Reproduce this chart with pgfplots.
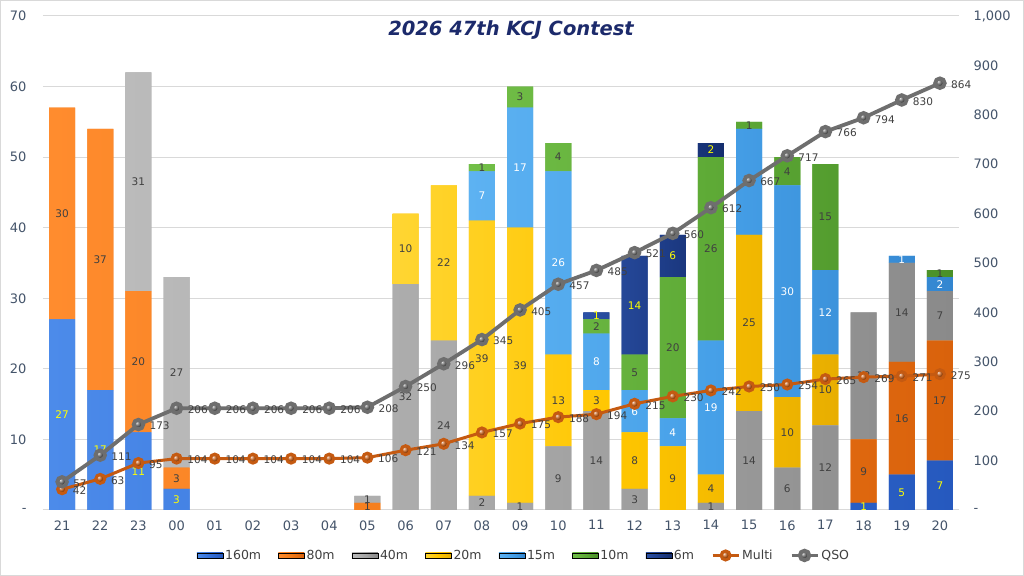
\documentclass[border=0pt]{standalone}
\usepackage{pgfplots}
\usepackage{pgfplotstable}
\pgfplotsset{compat=1.18}
\usepackage{fontspec}
\setmainfont{DejaVu Sans}
\definecolor{c160}{HTML}{3570D8}
\definecolor{c160l}{HTML}{4C8BEA}
\definecolor{c160d}{HTML}{2659BE}
\definecolor{c80}{HTML}{F27A18}
\definecolor{c80l}{HTML}{FF8C2E}
\definecolor{c80d}{HTML}{D9620C}
\definecolor{c40}{HTML}{A5A5A5}
\definecolor{c40l}{HTML}{BBBBBB}
\definecolor{c40d}{HTML}{8A8A8A}
\definecolor{c20}{HTML}{FFC600}
\definecolor{c20l}{HTML}{FFD633}
\definecolor{c20d}{HTML}{E8AE00}
\definecolor{c15}{HTML}{46A0E8}
\definecolor{c15l}{HTML}{5DB2F2}
\definecolor{c15d}{HTML}{3386D0}
\definecolor{c10}{HTML}{5EAA36}
\definecolor{c10l}{HTML}{72BF48}
\definecolor{c10d}{HTML}{4A9028}
\definecolor{c6}{HTML}{1F3F8C}
\definecolor{c6l}{HTML}{2C52A6}
\definecolor{c6d}{HTML}{152E6E}
\definecolor{cmulti}{HTML}{C55A11}
\definecolor{cqso}{HTML}{6E6E6E}
\definecolor{ctick}{HTML}{44546A}
\definecolor{ctitle}{HTML}{1C2A6B}
\definecolor{clab}{HTML}{404040}
\definecolor{cgrid}{HTML}{D9D9D9}
\definecolor{cyel}{HTML}{FFFF00}

\pgfplotstableread{
x b160 b80 b40 b20 b15 b10 b6 multi qso
0 27 30 0 0 0 0 0 42 57
1 17 37 0 0 0 0 0 63 111
2 11 20 31 0 0 0 0 95 173
3 3 3 27 0 0 0 0 104 206
4 0 0 0 0 0 0 0 104 206
5 0 0 0 0 0 0 0 104 206
6 0 0 0 0 0 0 0 104 206
7 0 0 0 0 0 0 0 104 206
8 0 1 1 0 0 0 0 106 208
9 0 0 32 10 0 0 0 121 250
10 0 0 24 22 0 0 0 134 296
11 0 0 2 39 7 1 0 157 345
12 0 0 1 39 17 3 0 175 405
13 0 0 9 13 26 4 0 188 457
14 0 0 14 3 8 2 1 194 485
15 0 0 3 8 6 5 14 215 521
16 0 0 0 9 4 20 6 230 560
17 0 0 1 4 19 26 2 242 612
18 0 0 14 25 15 1 0 250 667
19 0 0 6 10 30 4 0 254 717
20 0 0 12 10 12 15 0 265 766
21 1 9 18 0 0 0 0 269 794
22 5 16 14 0 1 0 0 271 830
23 7 17 7 0 2 1 0 275 864
}\data

\pgfplotsset{
  /pgf/number format/assume math mode=true,
  bandbar/.style n args={4}{draw=none, fill=#1, left color=#2, right color=#3, middle color=#1,
    every node near coord/.append style={text=#4}},
  barleg/.style={legend image code/.code={\draw[##1] (0bp,-2.7bp) rectangle (26bp,2.7bp);}},
}

\begin{document}
\begin{tikzpicture}
\useasboundingbox (0,0) rectangle (1024bp,576bp);
\fill[white] (0,0) rectangle (1024bp,576bp);
\draw[cgrid, line width=1bp] (0.5bp,0.5bp) rectangle (1023.5bp,575.5bp);
\node[font=\fontsize{19.5bp}{22bp}\selectfont\bfseries\itshape, text=ctitle] at (511bp,546bp) {2026 47th KCJ Contest};

\begin{axis}[
  at={(43bp,66bp)}, anchor=south west, scale only axis,
  width=916bp, height=494bp,
  ybar stacked, bar width=26bp,
  xmin=-0.5, xmax=23.5, ymin=0, ymax=70,
  xtick={0,...,23},
  xticklabels={21,22,23,00,01,02,03,04,05,06,07,08,09,10,11,12,13,14,15,16,17,18,19,20},
  ytick={0,10,20,30,40,50,60,70},
  yticklabels={-,10,20,30,40,50,60,70},
  axis x line*=bottom, axis y line*=left,
  x axis line style={draw=cgrid, line width=1bp, -},
  y axis line style={draw=none},
  major tick length=0pt,
  ymajorgrids, grid style={cgrid, line width=1bp},
  tick label style={font=\fontsize{13bp}{15bp}\selectfont, text=ctick},
  yticklabel style={xshift=-13bp},
  xticklabel style={yshift=-7bp},
  point meta=explicit,
  nodes near coords={\pgfmathfloatifflags{\pgfplotspointmeta}{0}{}{\pgfmathprintnumber{\pgfplotspointmeta}}},
  every node near coord/.append style={anchor=center, font=\fontsize{10.5bp}{12bp}\selectfont},
]
\addplot[bandbar={c160}{c160l}{c160d}{cyel}] table[x=x,y=b160,meta=b160]\data;
\addplot[bandbar={c80}{c80l}{c80d}{clab}] table[x=x,y=b80,meta=b80]\data;
\addplot[bandbar={c40}{c40l}{c40d}{clab}] table[x=x,y=b40,meta=b40]\data;
\addplot[bandbar={c20}{c20l}{c20d}{clab}] table[x=x,y=b20,meta=b20]\data;
\addplot[bandbar={c15}{c15l}{c15d}{white}] table[x=x,y=b15,meta=b15]\data;
\addplot[bandbar={c10}{c10l}{c10d}{clab}] table[x=x,y=b10,meta=b10]\data;
\addplot[bandbar={c6}{c6l}{c6d}{cyel}] table[x=x,y=b6,meta=b6]\data;
\end{axis}

\begin{axis}[
  at={(43bp,66bp)}, anchor=south west, scale only axis,
  width=916bp, height=494bp,
  xmin=-0.5, xmax=23.5, ymin=0, ymax=1000,
  hide x axis, axis y line*=right,
  y axis line style={draw=none},
  major tick length=0pt,
  ytick={0,100,200,300,400,500,600,700,800,900,1000},
  yticklabels={-,100,200,300,400,500,600,700,800,900,{1,000}},
  tick label style={font=\fontsize{13bp}{15bp}\selectfont, text=ctick},
  yticklabel style={xshift=11bp},
  legend columns=9,
  legend style={at={(0.525,-0.092)}, anchor=center, draw=none, fill=none,
    font=\fontsize{12.5bp}{14bp}\selectfont, text=clab,
    nodes={inner xsep=2bp},
    /tikz/every even column/.append style={column sep=15bp},
    /tikz/every odd column/.append style={column sep=0bp}},
  legend image code/.code={\draw[mark repeat=2,mark phase=2,#1] plot coordinates {(0bp,0bp) (13bp,0bp) (26bp,0bp)};},
  nodes near coords,
  every node near coord/.append style={anchor=west, xshift=6bp, yshift=-1.5bp, text=clab,
    font=\fontsize{10.5bp}{12bp}\selectfont},
]
\addlegendimage{barleg, draw=none, left color=c160l, right color=c160d, middle color=c160}
\addlegendentry{160m}
\addlegendimage{barleg, draw=none, left color=c80l, right color=c80d, middle color=c80}
\addlegendentry{80m}
\addlegendimage{barleg, draw=none, left color=c40l, right color=c40d, middle color=c40}
\addlegendentry{40m}
\addlegendimage{barleg, draw=none, left color=c20l, right color=c20d, middle color=c20}
\addlegendentry{20m}
\addlegendimage{barleg, draw=none, left color=c15l, right color=c15d, middle color=c15}
\addlegendentry{15m}
\addlegendimage{barleg, draw=none, left color=c10l, right color=c10d, middle color=c10}
\addlegendentry{10m}
\addlegendimage{barleg, draw=none, left color=c6l, right color=c6d, middle color=c6}
\addlegendentry{6m}
\addplot[cmulti, line width=3bp, mark=ball, mark size=4.5bp, mark options={ball color=cmulti}] table[x=x,y=multi]\data;
\addlegendentry{Multi}
\addplot[cqso, line width=3.8bp, mark=ball, mark size=4.8bp, mark options={ball color=cqso!85!black}] table[x=x,y=qso]\data;
\addlegendentry{QSO}
\end{axis}
\end{tikzpicture}
\end{document}
